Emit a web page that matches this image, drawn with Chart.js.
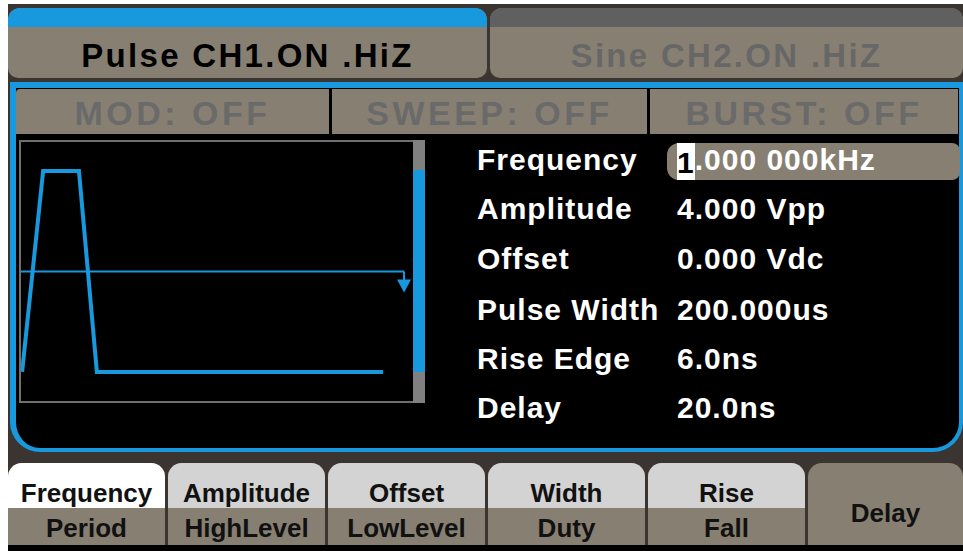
<!DOCTYPE html>
<html><head><meta charset="utf-8">
<script src="https://cdn.jsdelivr.net/npm/chart.js@4.4.1/dist/chart.umd.min.js"></script>
<style>
html,body{margin:0;padding:0;background:#fff;width:963px;height:551px;overflow:hidden}
.a{position:absolute;box-sizing:border-box}
.t{position:absolute;font-family:"Liberation Sans",Arial,sans-serif;font-weight:bold;white-space:nowrap}
.c{left:0;width:100%;text-align:center}
.p{font-size:30px;line-height:30px;color:#fff;letter-spacing:1px}
.b{font-size:26px;line-height:26px;color:#111}
.m{font-size:34px;line-height:34px;color:#6a6a6a;letter-spacing:3.5px;top:7px}
</style></head>
<body>
<div class="a" style="left:8px;top:4px;width:955px;height:547px;background:#3a3530"></div>
<div class="a" style="left:8px;top:545px;width:955px;height:6px;background:#000"></div>

<div class="a" style="left:8px;top:8px;width:479px;height:70px;background:#878072;border-radius:12px 12px 10px 10px;overflow:hidden">
  <div class="a" style="left:0;top:0;width:100%;height:19px;background:#1899dd"></div>
  <div class="t c" style="top:31px;font-size:33px;line-height:33px;color:#000;letter-spacing:2.3px;padding-right:12px">Pulse CH1.ON .HiZ</div>
</div>
<div class="a" style="left:490px;top:8px;width:473px;height:70px;background:#878072;border-radius:12px 12px 10px 10px;overflow:hidden">
  <div class="a" style="left:0;top:0;width:100%;height:19px;background:#606060"></div>
  <div class="t c" style="top:31px;font-size:33px;line-height:33px;color:#676767;letter-spacing:2.3px">Sine CH2.ON .HiZ</div>
</div>

<div class="a" style="left:10px;top:82px;width:953px;height:370px;background:#000;border-style:solid;border-color:#1899dd;border-width:6px 4px 4px 6px;border-radius:0 0 30px 30px"></div>

<div class="a" style="left:16px;top:89px;width:313px;height:45px;background:#878072;border-radius:4px 0 0 0"><div class="t c m">MOD: OFF</div></div>
<div class="a" style="left:332px;top:89px;width:315px;height:45px;background:#878072"><div class="t c m">SWEEP: OFF</div></div>
<div class="a" style="left:650px;top:89px;width:308px;height:45px;background:#878072"><div class="t c m">BURST: OFF</div></div>

<div class="a" style="left:19px;top:140px;width:396px;height:263px;border:2px solid #6f6f6f"></div>
<div class="a" style="left:413px;top:140px;width:12px;height:263px;background:#808080"></div>
<div class="a" style="left:413px;top:170px;width:12px;height:202px;background:#1899dd"></div>
<canvas id="wave" width="392" height="259" class="a" style="left:21px;top:142px;width:392px;height:259px"></canvas>

<div class="a" style="left:667px;top:143px;width:293px;height:37px;background:#878072;border-radius:12px 8px 8px 12px"></div>

<div class="t p" style="left:477px;top:145px">Frequency</div>
<div class="t p" style="left:477px;top:194px">Amplitude</div>
<div class="t p" style="left:477px;top:244px">Offset</div>
<div class="t p" style="left:477px;top:295px">Pulse Width</div>
<div class="t p" style="left:477px;top:344px">Rise Edge</div>
<div class="t p" style="left:477px;top:393px">Delay</div>

<div class="t p" style="left:677px;top:145px"><span style="background:#fff;color:#000;display:inline-block;height:37px;margin-top:-2px;line-height:39px;vertical-align:top">1</span>.000 000kHz</div>
<div class="t p" style="left:677px;top:194px">4.000 Vpp</div>
<div class="t p" style="left:677px;top:244px">0.000 Vdc</div>
<div class="t p" style="left:677px;top:295px">200.000us</div>
<div class="t p" style="left:677px;top:344px">6.0ns</div>
<div class="t p" style="left:677px;top:393px">20.0ns</div>

<div id="btns"></div>

<script>
// ---- data ----
const pulseTimes = [4, 79, 207, 271, 1293];      // us
const pulseVolts = [-2, 2, 2, -2, -2];           // V
const offsetTimes = [0, 1368];                   // us
const offsetVolts = [0, 0];                      // V (offset 0.000 Vdc)
const timeRange = [0, 1400];
const voltRange = [-2.58, 2.58];
const btnTop = ["Frequency", "Amplitude", "Offset", "Width", "Rise", "Delay"];
const btnBottom = ["Period", "HighLevel", "LowLevel", "Duty", "Fall", ""];

const BLUE = '#1899dd';

// ---- buttons ----
const btnWrap = document.getElementById('btns');
btnTop.forEach((label, i) => {
  const left = 8 + i * 160;
  const w = i === 5 ? 155 : 157;
  const d = document.createElement('div');
  d.className = 'a';
  d.style.cssText = `left:${left}px;top:463px;width:${w}px;height:82px;border-radius:14px 14px 0 0;overflow:hidden;background:#878072`;
  if (btnBottom[i]) {
    const top = document.createElement('div');
    top.className = 'a';
    top.style.cssText = `left:0;top:0;width:100%;height:45px;background:${i === 0 ? '#ffffff' : '#d3d3d3'}`;
    d.appendChild(top);
    const t1 = document.createElement('div');
    t1.className = 't c b'; t1.style.top = '17px'; t1.textContent = label;
    d.appendChild(t1);
    const t2 = document.createElement('div');
    t2.className = 't c b'; t2.style.top = '52px'; t2.textContent = btnBottom[i];
    d.appendChild(t2);
  } else {
    const t1 = document.createElement('div');
    t1.className = 't c b'; t1.style.top = '37px'; t1.textContent = label;
    d.appendChild(t1);
  }
  btnWrap.appendChild(d);
});

// ---- chart ----
const offsetMarker = {
  id: 'offsetMarker',
  afterDatasetsDraw(chart) {
    const meta = chart.getDatasetMeta(1);
    const pt = meta.data[meta.data.length - 1];
    const ctx = chart.ctx;
    ctx.save();
    ctx.fillStyle = BLUE; ctx.strokeStyle = BLUE; ctx.lineWidth = 2;
    ctx.beginPath(); ctx.moveTo(pt.x, pt.y); ctx.lineTo(pt.x, pt.y + 9); ctx.stroke();
    ctx.beginPath();
    ctx.moveTo(pt.x - 7, pt.y + 8); ctx.lineTo(pt.x + 7, pt.y + 8); ctx.lineTo(pt.x, pt.y + 21);
    ctx.closePath(); ctx.fill();
    ctx.restore();
  }
};

new Chart(document.getElementById('wave'), {
  type: 'line',
  data: {
    datasets: [
      { data: pulseTimes.map((t, i) => ({ x: t, y: pulseVolts[i] })), borderColor: BLUE, borderWidth: 4,
        pointRadius: 0, tension: 0, borderJoinStyle: 'miter', borderCapStyle: 'butt', clip: false },
      { data: offsetTimes.map((t, i) => ({ x: t, y: offsetVolts[i] })), borderColor: BLUE, borderWidth: 2,
        pointRadius: 0, tension: 0, clip: false }
    ]
  },
  options: {
    responsive: false, animation: false, devicePixelRatio: 1,
    layout: { padding: 0 },
    plugins: { legend: { display: false }, tooltip: { enabled: false } },
    scales: {
      x: { type: 'linear', min: timeRange[0], max: timeRange[1], display: false },
      y: { type: 'linear', min: voltRange[0], max: voltRange[1], display: false }
    }
  },
  plugins: [offsetMarker]
});
</script>
</body></html>
